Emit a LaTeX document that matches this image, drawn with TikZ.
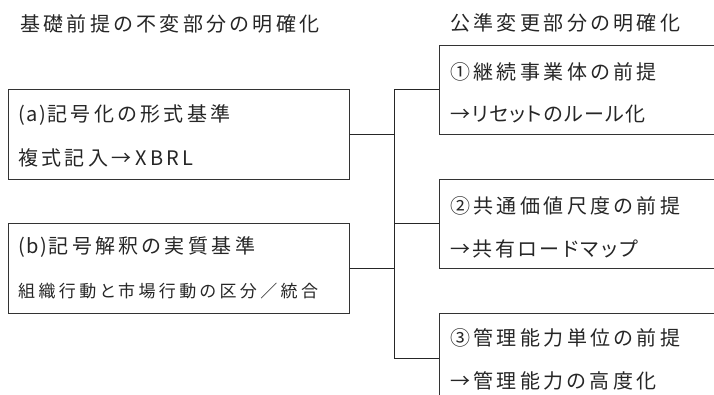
\documentclass[tikz,border=0pt]{standalone}
\usepackage{fontspec}
\newfontfamily\jp[LetterSpace=17,RawFeature=+palt]{Noto Sans CJK JP}
\newfontfamily\jpsmall[LetterSpace=20,RawFeature=+palt]{Noto Sans CJK JP}
\newfontfamily\jptight[LetterSpace=7,RawFeature=+palt]{Noto Sans CJK JP}
\newfontfamily\jpmid[LetterSpace=13,RawFeature=+palt]{Noto Sans CJK JP}
\newfontfamily\jpparen[LetterSpace=9,RawFeature=+palt]{Noto Sans CJK JP}
\newcommand{\plain}[1]{{\jpparen #1}}
\begin{document}
\begin{tikzpicture}[x=1pt,y=-1pt,
  box/.style={draw=black!80,line width=0.8pt,rectangle,inner sep=0pt,anchor=north west},
  lbox/.style={box,minimum width=341pt,minimum height=90pt},
  rbox/.style={box,minimum width=290pt,minimum height=89pt},
  txt/.style={anchor=west,inner sep=0pt,text=black!85,font=\jp\fontsize{20}{24}\selectfont},
  stxt/.style={anchor=west,inner sep=0pt,text=black!85,font=\jpsmall\fontsize{17}{20}\selectfont},
  conn/.style={draw=black!85,line width=0.8pt}]
\clip (0,0) rectangle (714,395);
\fill[white] (0,0) rectangle (714,395);
% titles
\node[txt] (t1) at (20,24) {基礎前提の不変部分の明確化};
\node[txt] (t2) at (450,23) {公準変更部分の明確化};
% left boxes
\node[lbox] (a) at (8,89) {};
\node[lbox] (b) at (8,223) {};
\node[txt] (a1) at (18,115) {\plain{(a)}\hspace{1pt}記号化の形式基準};
\node[txt] (a2) at (18,158) {複式記入→XBRL};
\node[txt] (b1) at (18,247) {\plain{(b)}\hspace{1pt}記号解釈の実質基準};
\node[stxt] (b2) at (18,291) {組織行動と市場行動の区分／統合};
% right boxes
\node[rbox] (r1) at (439,45) {};
\node[rbox] (r2) at (439,179) {};
\node[rbox] (r3) at (439,313) {};
\node[txt] (r1a) at (450,72) {①継続事業体の前提};
\node[txt,font=\jptight\fontsize{20}{24}\selectfont] (r1b) at (450,114) {→リセットのルール化};
\node[txt] (r2a) at (450,206) {②共通価値尺度の前提};
\node[txt,font=\jpmid\fontsize{20}{24}\selectfont] (r2b) at (450,249) {→共有ロードマップ};
\node[txt] (r3a) at (450,338) {③管理能力単位の前提};
\node[txt] (r3b) at (450,381) {→管理能力の高度化};
% connectors
\coordinate (sp) at (394,0);
\draw[conn] (a.east) -- (a.east -| sp);
\draw[conn] (b.east) -- (b.east -| sp);
\draw[conn] (r1.west -| sp) -- (r3.west -| sp);
\draw[conn] (r1.west -| sp) -- (r1.west);
\draw[conn] (r2.west -| sp) -- (r2.west);
\draw[conn] (r3.west -| sp) -- (r3.west);
\end{tikzpicture}
\end{document}
